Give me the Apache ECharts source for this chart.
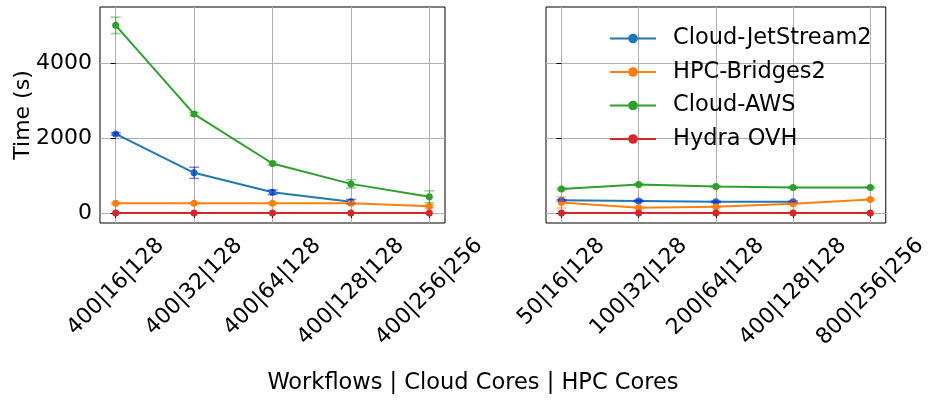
<!DOCTYPE html>
<html>
<head>
<meta charset="utf-8">
<script src="https://cdn.jsdelivr.net/npm/echarts@6/dist/echarts.min.js"></script>
<style>
  html, body { margin: 0; padding: 0; background: #fff; }
  #chart { width: 930px; height: 401px; }
</style>
</head>
<body>
<div id="chart"></div>
<script>
  // categories
  const leftCats = ['400|16|128', '400|32|128', '400|64|128', '400|128|128', '400|256|256'];
  const rightCats = ['50|16|128', '100|32|128', '200|64|128', '400|128|128', '800|256|256'];
  const yTicks = [0, 2000, 4000];

  // left panel values (mean, error)
  const jetLeft = [2110, 1070, 550, 300, null];
  const jetLeftErr = [30, 150, 60, 60, null];
  const bridgesLeft = [255, 255, 255, 255, 175];
  const bridgesLeftErr = [20, 20, 20, 20, 40];
  const awsLeft = [5010, 2640, 1320, 775, 430];
  const awsLeftErr = [220, 40, 40, 110, 160];
  const hydraLeft = [0, 0, 0, 0, 0];

  // right panel values
  const jetRight = [335, 320, 295, 295, null];
  const jetRightErr = [20, 20, 20, 20, null];
  const bridgesRight = [280, 135, 165, 245, 360];
  const bridgesRightErr = [150, 20, 20, 20, 20];
  const awsRight = [640, 760, 705, 680, 680];
  const awsRightErr = [20, 20, 20, 20, 20];
  const hydraRight = [0, 0, 0, 0, 0];

  const names = ['Cloud-JetStream2', 'HPC-Bridges2', 'Cloud-AWS', 'Hydra OVH'];
  const colors = ['#1f77b4', '#ff7f0e', '#2ca02c', '#d62728'];
  const errColors = ['rgba(0,0,255,0.5)', 'rgba(255,127,14,0.5)', 'rgba(44,160,44,0.5)', 'rgba(214,39,40,0.5)'];
  const font = 'DejaVu Sans';
  const tickFont = 22;
  const bigFont = 22.5;

  let chart = echarts.init(document.getElementById('chart'));

  // measure label widths so rotated labels hang centred under their tick (like matplotlib ha=center)
  let ctx = document.createElement('canvas').getContext('2d');
  ctx.font = tickFont + 'px "' + font + '"';
  function labelRich(cats) {
    let rich = {};
    cats.forEach((c, i) => {
      let w = ctx.measureText(c).width;
      let d = 0.354 * (w + tickFont * 1.15);
      let p = 1.414 * d;
      rich['l' + i] = { fontSize: tickFont, fontFamily: font, color: '#000', padding: [p, p, 0, 0] };
    });
    return rich;
  }

  function pts(arr) {
    return arr.map((v, i) => [i, v]);
  }
  function errPts(arr, err) {
    let out = [];
    arr.forEach((v, i) => {
      if (v !== null && err[i] !== null) out.push([i, v, err[i]]);
    });
    return out;
  }

  function lineSeries(idx, data, g) {
    return {
      name: names[idx],
      type: 'line',
      xAxisIndex: g,
      yAxisIndex: g,
      data: pts(data),
      symbol: 'circle',
      symbolSize: 7,
      showSymbol: true,
      connectNulls: false,
      lineStyle: { width: 2, color: colors[idx] },
      itemStyle: { color: colors[idx] },
      z: 3 + idx,
      animation: false
    };
  }

  function errSeries(idx, data, err, g) {
    return {
      type: 'custom',
      name: 'err' + idx + '_' + g,
      xAxisIndex: g,
      yAxisIndex: g,
      data: errPts(data, err),
      z: 10,
      silent: true,
      animation: false,
      renderItem: function (params, api) {
        let x = api.value(0), y = api.value(1), e = api.value(2);
        let lo = api.coord([x, y - e]);
        let hi = api.coord([x, y + e]);
        let cap = 5;
        let style = { stroke: errColors[idx], lineWidth: 1.5 };
        return {
          type: 'group',
          children: [
            { type: 'line', shape: { x1: lo[0], y1: lo[1], x2: hi[0], y2: hi[1] }, style: style },
            { type: 'line', shape: { x1: lo[0] - cap, y1: lo[1], x2: lo[0] + cap, y2: lo[1] }, style: style },
            { type: 'line', shape: { x1: hi[0] - cap, y1: hi[1], x2: hi[0] + cap, y2: hi[1] }, style: style }
          ]
        };
      }
    };
  }

  function xAxis(g, cats) {
    return {
      type: 'value',
      gridIndex: g,
      min: -0.2,
      max: 4.2,
      axisLine: { show: false },
      axisTick: { show: true, length: 5, lineStyle: { color: '#000' }, customValues: [0, 1, 2, 3, 4] },
      axisLabel: {
        customValues: [0, 1, 2, 3, 4],
        formatter: v => '{l' + Math.round(v) + '|' + cats[Math.round(v)] + '}',
        rich: labelRich(cats),
        rotate: 45,
        align: 'center',
        verticalAlign: 'middle',
        hideOverlap: false,
        fontSize: tickFont,
        color: '#000',
        fontFamily: font,
        margin: 10
      },
      splitLine: { show: true, lineStyle: { color: '#b0b0b0', width: 1 } }
    };
  }

  function yAxis(g, showLabels) {
    return {
      type: 'value',
      gridIndex: g,
      min: -270,
      max: 5500,
      name: showLabels ? 'Time (s)' : '',
      nameLocation: 'middle',
      nameGap: 66,
      nameMoveOverlap: false,
      nameTextStyle: { fontSize: tickFont, color: '#000', fontFamily: font },
      axisLine: { show: false },
      axisTick: { show: true, length: 5, lineStyle: { color: '#000' }, customValues: yTicks },
      axisLabel: {
        show: showLabels,
        customValues: yTicks,
        formatter: v => String(v),
        fontSize: tickFont,
        color: '#000',
        fontFamily: font,
        margin: 8
      },
      splitLine: { show: true, lineStyle: { color: '#b0b0b0', width: 1 } }
    };
  }

  let series = [
    lineSeries(0, jetLeft, 0), lineSeries(1, bridgesLeft, 0), lineSeries(2, awsLeft, 0), lineSeries(3, hydraLeft, 0),
    lineSeries(0, jetRight, 1), lineSeries(1, bridgesRight, 1), lineSeries(2, awsRight, 1), lineSeries(3, hydraRight, 1),
    errSeries(0, jetLeft, jetLeftErr, 0), errSeries(1, bridgesLeft, bridgesLeftErr, 0), errSeries(2, awsLeft, awsLeftErr, 0),
    errSeries(0, jetRight, jetRightErr, 1), errSeries(1, bridgesRight, bridgesRightErr, 1), errSeries(2, awsRight, awsRightErr, 1)
  ];

  let option = {
    backgroundColor: '#fff',
    animation: false,
    textStyle: { fontFamily: font },
    grid: [
      { left: 100, right: 485, top: 7, bottom: 178, show: true, borderColor: '#000', borderWidth: 1, backgroundColor: 'transparent' },
      { left: 546, right: 39, top: 7, bottom: 178, show: true, borderColor: '#000', borderWidth: 1, backgroundColor: 'transparent' }
    ],
    legend: {
      data: names,
      orient: 'vertical',
      left: 609,
      top: 27,
      padding: 0,
      itemWidth: 46,
      itemHeight: 12,
      itemGap: 10.5,
      textStyle: { fontSize: bigFont, color: '#000', fontFamily: font, padding: [0, 0, 0, 12] },
      selectedMode: false
    },
    xAxis: [xAxis(0, leftCats), xAxis(1, rightCats)],
    yAxis: [yAxis(0, true), yAxis(1, false)],
    graphic: [{
      type: 'text',
      x: 473,
      y: 383,
      style: {
        text: 'Workflows | Cloud Cores | HPC Cores', fontSize: bigFont, fill: '#000', fontFamily: font,
        align: 'center', verticalAlign: 'middle'
      }
    }],
    series: series
  };

  chart.setOption(option);
</script>
</body>
</html>
